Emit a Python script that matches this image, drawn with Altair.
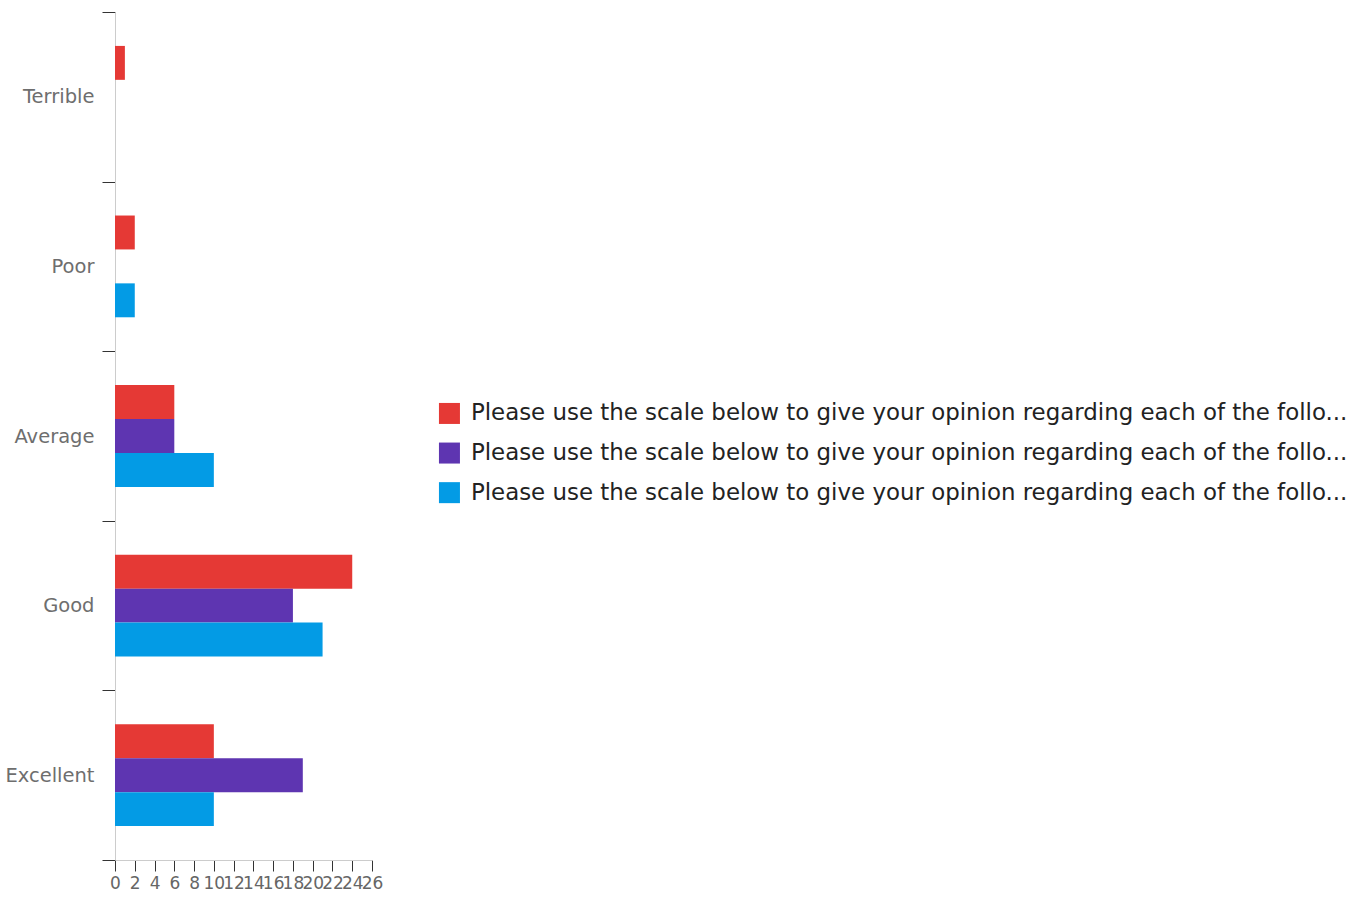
import altair as alt
import pandas as pd

# Rating categories, top to bottom
categories = ["Terrible", "Poor", "Average", "Good", "Excellent"]

# Three survey questions (series keys) and their legend text
series = ["q1", "q2", "q3"]
legend_text = "Please use the scale below to give your opinion regarding each of the follo..."

# Response counts per rating for each question
q1_counts = [1, 2, 6, 24, 10]
q2_counts = [0, 0, 6, 18, 19]
q3_counts = [0, 2, 10, 21, 10]

colors = ["#E53935", "#5E35B1", "#039BE5"]
x_ticks = list(range(0, 27, 2))

rows = []
for key, counts in zip(series, [q1_counts, q2_counts, q3_counts]):
    for cat, v in zip(categories, counts):
        rows.append({"rating": cat, "question": key, "count": v})
df = pd.DataFrame(rows)

font = "DejaVu Sans"

chart = (
    alt.Chart(df)
    .mark_bar()
    .encode(
        x=alt.X(
            "count:Q",
            scale=alt.Scale(domain=[0, 26], nice=False),
            axis=alt.Axis(
                title=None,
                values=x_ticks,
                grid=False,
                labelOverlap=False,
                labelFlush=False,
                labelFontSize=17,
                labelColor="#666666",
                labelPadding=4,
                tickSize=11,
                tickColor="#333333",
                domainColor="#cccccc",
            ),
        ),
        y=alt.Y(
            "rating:N",
            sort=categories,
            scale=alt.Scale(paddingInner=0, paddingOuter=0),
            axis=alt.Axis(
                title=None,
                tickBand="extent",
                labelFontSize=19.5,
                labelColor="#6e6e6e",
                labelPadding=8,
                tickSize=13,
                tickColor="#333333",
                domainColor="#cccccc",
            ),
        ),
        yOffset=alt.YOffset(
            "question:N",
            sort=series,
            scale=alt.Scale(paddingInner=0, paddingOuter=1.0),
        ),
        color=alt.Color(
            "question:N",
            scale=alt.Scale(domain=series, range=colors),
            legend=alt.Legend(
                title=None,
                orient="none",
                legendX=323,
                legendY=390,
                symbolType="square",
                symbolSize=441,
                symbolStrokeWidth=0,
                labelFontSize=22.9,
                labelColor="#222222",
                labelOffset=10,
                labelLimit=2000,
                rowPadding=15.6,
                labelExpr=f"'{legend_text}'",
            ),
        ),
    )
    .properties(
        width=257,
        height=848,
        autosize=alt.AutoSizeParams(type="none"),
        padding={"left": 115, "top": 12, "right": 990, "bottom": 38},
    )
    .configure(font=font)
    .configure_view(stroke=None)
)

chart.save("out.html", embed_options={"renderer": "svg", "actions": False})
